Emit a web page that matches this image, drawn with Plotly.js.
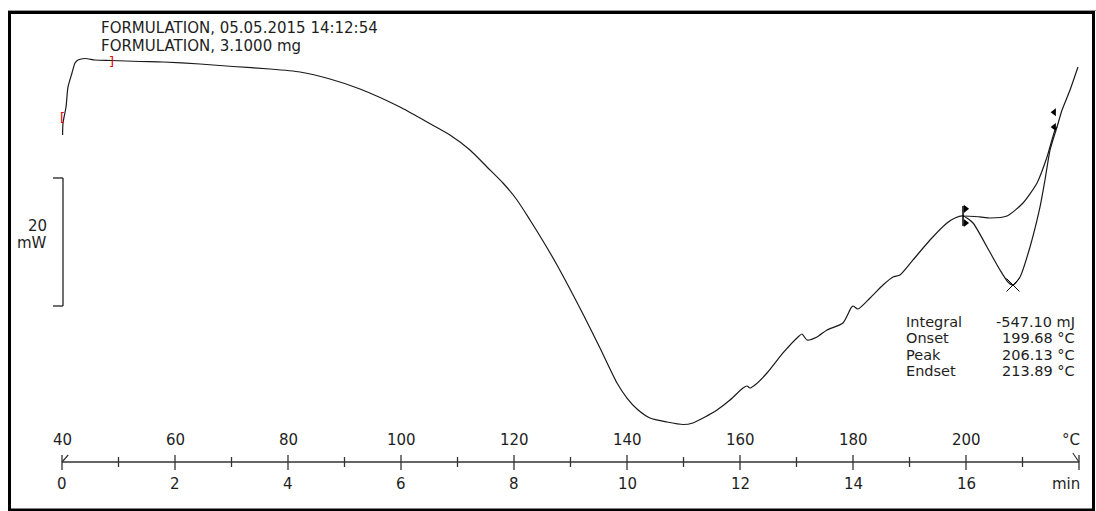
<!DOCTYPE html>
<html><head><meta charset="utf-8">
<script src="https://cdn.plot.ly/plotly-3.0.1.min.js"></script>
<style>html,body{margin:0;padding:0;background:#fff}#chart{width:1096px;height:511px}</style>
</head><body><div id="chart"></div>
<script>
// DSC curve: temperature (°C) vs heat flow (mW, arbitrary offset)
const tempC = [40.10,40.18,40.71,41.06,41.77,42.30,42.83,44.07,45.84,48.67,53.81,57.88,64.42,70.27,76.81,82.12,87.43,92.74,99.82,104.60,108.67,112.21,115.22,118.05,120.53,122.83,125.13,127.61,132.21,135.22,138.23,140.00,141.77,144.07,147.08,149.91,151.68,153.81,155.93,158.23,160.53,161.24,161.77,162.65,164.78,167.61,170.27,170.97,171.86,173.63,175.40,178.23,179.65,180.00,180.88,183.01,185.31,187.08,188.32,190.62,193.63,196.64,198.05,199.47,201.24,203.72,206.02,207.43,208.32,209.56,211.33,213.10,213.98,214.87,216.11,217.00,218.41,219.82];
const heatFlow = [50.94,52.81,55.31,58.44,60.63,62.19,62.66,62.89,62.66,62.58,62.42,62.34,62.03,61.64,61.25,60.78,59.69,58.13,55.31,52.97,50.94,48.59,45.94,43.44,40.78,37.66,34.38,30.63,22.97,17.66,12.19,9.84,8.13,6.72,6.09,5.70,5.94,6.88,7.97,9.53,11.41,11.72,11.41,11.88,13.75,16.88,19.38,19.84,18.91,19.38,20.47,21.56,23.91,24.22,23.75,25.47,27.50,28.75,29.06,31.41,34.53,37.19,37.97,38.28,37.19,33.44,29.84,27.97,27.50,28.75,33.44,39.69,43.91,48.59,52.19,54.84,57.97,61.56];
// integration baseline
const baseT  = [199.47,202.48,204.25,207.26,210.09,212.57,214.34,215.75,216.11];
const baseHF = [38.28,38.13,37.97,38.28,40.31,43.44,47.50,51.72,52.19];
// evaluation markers
const onsetT = 199.47, onsetHF = [39.84, 36.72];
const onsetTri = [39.4, 37.2];
const endT = 215.6, endTri = [54.5, 52.2];
const peakT = 208.32, peakHF = 27.50;
const evalStartT = [40.0, 48.7], evalStartHF = [53.7, 62.5];
// scale bar (20 mW)
const scaleBar = [24.22, 44.22];
// axis ticks
const tempTicks = [40,60,80,100,120,140,160,180,200];
const minTicks  = [0,2,4,6,8,10,12,14,16];
const minorTicks = [50,70,90,110,130,150,170,190,210];
const axisEnd = 220;
const headerLines = ["FORMULATION, 05.05.2015 14:12:54","FORMULATION, 3.1000 mg"];
const resultLabels = ["Integral","Onset","Peak","Endset"];
const resultValues = ["-547.10 mJ","199.68 °C","206.13 °C","213.89 °C"];

const W=1096,H=511;
const px = p => p/W, py = p => 1 - p/H;
const FONT = "DejaVu Sans";
const TXT = "#1e1e1e";

const traces = [
 {x:tempC,y:heatFlow,type:'scatter',mode:'lines',line:{color:'#1a1a1a',width:1.2,shape:'spline',smoothing:0.6},hoverinfo:'skip'},
 {x:baseT,y:baseHF,type:'scatter',mode:'lines',line:{color:'#1a1a1a',width:1.2,shape:'spline',smoothing:0.6},hoverinfo:'skip'},
 {x:[onsetT,onsetT],y:onsetHF,type:'scatter',mode:'lines',line:{color:'#000',width:1.5},hoverinfo:'skip'},
 {x:[onsetT+0.45,onsetT+0.45],y:onsetTri,type:'scatter',mode:'markers',marker:{symbol:'triangle-right',size:7,color:'#000'},hoverinfo:'skip'},
 {x:[endT,endT],y:endTri,type:'scatter',mode:'markers',marker:{symbol:'triangle-left',size:7,color:'#000'},hoverinfo:'skip'},
 {x:[peakT],y:[peakHF],type:'scatter',mode:'markers',marker:{symbol:'x-thin-open',size:13,color:'#000',line:{color:'#000',width:1}},hoverinfo:'skip'}
];

const shapes = [];
const annotations = [];
const ann = (o)=>annotations.push(Object.assign({showarrow:false,borderpad:0,yanchor:'middle'},o));
// frame
shapes.push({type:'line',xref:'paper',yref:'paper',x0:px(8),x1:px(1096),y0:py(10.5),y1:py(10.5),line:{color:'#999',width:1}});
shapes.push({type:'rect',xref:'paper',yref:'paper',x0:px(9.5),x1:px(1093.5),y0:py(12.5),y1:py(510),line:{color:'#000',width:3}});
// time/temperature axis
const AX=462;
shapes.push({type:'line',xref:'x',yref:'paper',x0:tempTicks[0],x1:axisEnd,y0:py(AX),y1:py(AX),line:{color:'#333',width:1.3}});
tempTicks.forEach((t,i)=>{
  shapes.push({type:'line',xref:'x',yref:'paper',x0:t,x1:t,y0:py(455),y1:py(470),line:{color:'#333',width:1.3}});
  ann({xref:'x',yref:'paper',x:t,y:py(440),text:String(t),xanchor:'center',font:{family:FONT,size:15,color:TXT}});
  ann({xref:'x',yref:'paper',x:t,y:py(484),text:String(minTicks[i]),xanchor:'center',font:{family:FONT,size:15,color:TXT}});
});
minorTicks.forEach(t=>{
  shapes.push({type:'line',xref:'x',yref:'paper',x0:t,x1:t,y0:py(457),y1:py(467),line:{color:'#333',width:1.3}});
});
shapes.push({type:'line',xref:'x',yref:'paper',x0:axisEnd,x1:axisEnd,y0:py(455),y1:py(470),line:{color:'#333',width:1.3}});
shapes.push({type:'line',xref:'x',yref:'paper',x0:axisEnd-1.1,x1:axisEnd,y0:py(453),y1:py(AX),line:{color:'#333',width:1.2}});
shapes.push({type:'line',xref:'x',yref:'paper',x0:tempTicks[0],x1:tempTicks[0]+1.1,y0:py(AX),y1:py(455),line:{color:'#333',width:1.2}});
ann({xref:'x',yref:'paper',x:axisEnd+0.3,y:py(440),text:'°C',xanchor:'right',font:{family:FONT,size:15,color:TXT}});
ann({xref:'x',yref:'paper',x:axisEnd+0.3,y:py(484),text:'min',xanchor:'right',font:{family:FONT,size:15,color:TXT}});
// scale bar
shapes.push({type:'line',xref:'paper',yref:'y',x0:px(63),x1:px(63),y0:scaleBar[0],y1:scaleBar[1],line:{color:'#222',width:1.3}});
scaleBar.forEach(v=>shapes.push({type:'line',xref:'paper',yref:'y',x0:px(53),x1:px(63),y0:v,y1:v,line:{color:'#222',width:1.3}}));
ann({xref:'paper',yref:'paper',x:px(48),y:py(225.5),text:'20',xanchor:'right',font:{family:FONT,size:15,color:TXT}});
ann({xref:'paper',yref:'paper',x:px(48),y:py(243),text:'mW',xanchor:'right',font:{family:FONT,size:15,color:TXT}});
// evaluation range brackets
ann({xref:'x',yref:'y',x:evalStartT[0],y:evalStartHF[0],text:'[',xanchor:'center',font:{family:FONT,size:13,color:'#e00000'}});
ann({xref:'x',yref:'y',x:evalStartT[1],y:evalStartHF[1],text:']',xanchor:'center',font:{family:FONT,size:13,color:'#e00000'}});
// header
headerLines.forEach((t,i)=>ann({xref:'paper',yref:'paper',x:px(100),y:py(28.5+17*i),text:t,xanchor:'left',font:{family:FONT,size:15,color:TXT}}));
// results
resultLabels.forEach((t,i)=>{
  ann({xref:'paper',yref:'paper',x:px(905),y:py(321.5+16.6*i),text:t,xanchor:'left',font:{family:FONT,size:14.5,color:TXT}});
  ann({xref:'paper',yref:'paper',x:px(1076),y:py(321.5+16.6*i),text:resultValues[i],xanchor:'right',font:{family:FONT,size:14.5,color:TXT}});
});

const layout = {
  width:W,height:H,margin:{l:0,r:0,t:0,b:0},paper_bgcolor:'#fff',plot_bgcolor:'#fff',showlegend:false,
  xaxis:{range:[40-62/5.65, 40+1034/5.65],visible:false,fixedrange:true},
  yaxis:{range:[(461-511)/6.4, 461/6.4],visible:false,fixedrange:true},
  shapes:shapes,annotations:annotations
};
Plotly.newPlot('chart',traces,layout,{staticPlot:true,displayModeBar:false});
</script></body></html>
